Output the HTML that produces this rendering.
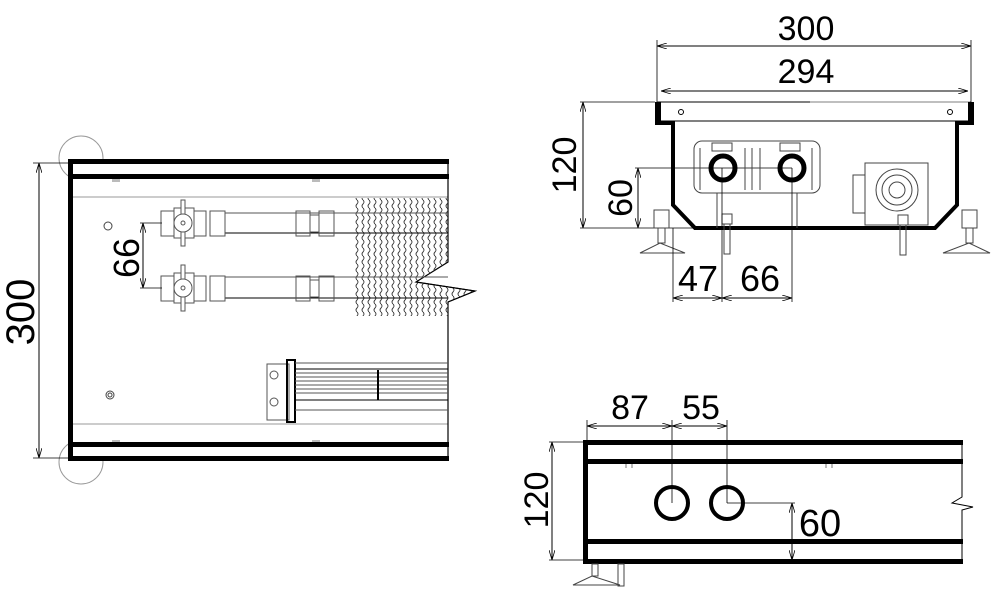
<!DOCTYPE html>
<html><head><meta charset="utf-8"><style>
html,body{margin:0;padding:0;background:#fff}
svg{display:block}
text{font-family:"Liberation Sans",sans-serif;fill:#000}
</style></head><body>
<svg width="998" height="599" viewBox="0 0 998 599" xmlns="http://www.w3.org/2000/svg">
<defs>
<pattern id="fin" x="355" y="0" width="6" height="8" patternUnits="userSpaceOnUse">
<path d="M2 0 Q4 2 2 4 Q0 6 2 8" fill="none" stroke="#333" stroke-width="0.9"/>
</pattern>
<marker id="ar" viewBox="0 0 10 6" refX="10" refY="3" markerWidth="10" markerHeight="6" orient="auto-start-reverse" markerUnits="userSpaceOnUse"><path d="M0 0 L10 3 L0 6" fill="none" stroke="#000" stroke-width="0.8"/></marker>
</defs>

<!-- ===== LEFT VIEW ===== -->
<circle cx="81" cy="158" r="22" fill="none" stroke="#999"/>
<circle cx="81" cy="462" r="22" fill="none" stroke="#999"/>
<rect x="68" y="159" width="381" height="302" fill="#fff"/>
<line x1="39" y1="163" x2="39" y2="458" stroke="#000" stroke-width="1" marker-start="url(#ar)" marker-end="url(#ar)"/>
<line x1="33" y1="163" x2="70" y2="163" stroke="#000" stroke-width="0.8"/>
<line x1="33" y1="458" x2="70" y2="458" stroke="#000" stroke-width="0.8"/>
<text transform="translate(34,312) rotate(-90)" font-size="40" text-anchor="middle">300</text>

<g fill="#000">
<rect x="68" y="159" width="381" height="5"/>
<rect x="68" y="174" width="381" height="5"/>
<rect x="68" y="442" width="381" height="5"/>
<rect x="68" y="456" width="381" height="5"/>
<rect x="68" y="159" width="5" height="302"/>
</g>
<rect x="112" y="179" width="8" height="3" fill="#bbb"/>
<rect x="312" y="179" width="8" height="3" fill="#bbb"/>
<rect x="112" y="440" width="8" height="2" fill="#bbb"/>
<rect x="312" y="440" width="8" height="2" fill="#bbb"/>
<line x1="73" y1="197" x2="448" y2="197" stroke="#999"/>
<line x1="73" y1="424" x2="448" y2="424" stroke="#999"/>
<path d="M448 160 V262 L416 282 L475 291 L448 302 V460" fill="none" stroke="#000" stroke-width="1.2"/>

<polygon points="355,198 448,198 448,262 416,282 475,291 448,302 448,316 355,316" fill="url(#fin)"/>
<path d="M416 282 L475 291 L448 302" fill="none" stroke="#000"/>

<circle cx="108" cy="226" r="4" fill="none" stroke="#444"/>
<circle cx="110" cy="395" r="4" fill="none" stroke="#444"/>
<circle cx="110" cy="395" r="2" fill="none" stroke="#444"/>

<g fill="none" stroke="#555" stroke-width="1">
<line x1="225" y1="213" x2="448" y2="213"/>
<line x1="225" y1="233" x2="448" y2="233" stroke="#000"/>
<line x1="225" y1="277" x2="448" y2="277"/>
<line x1="225" y1="298" x2="448" y2="298" stroke="#000"/>
<g id="v1">
<rect x="161" y="211" width="13" height="25"/>
<rect x="174" y="208" width="20" height="30"/>
<rect x="194" y="211" width="12" height="25"/>
<rect x="210" y="211" width="15" height="25"/>
<rect x="181" y="200" width="4" height="46" fill="#fff"/>
<circle cx="183" cy="223" r="9" fill="#fff"/>
<circle cx="183" cy="223" r="2"/>
<rect x="296" y="211" width="14" height="25"/>
<rect x="310" y="215" width="9" height="17"/>
<rect x="319" y="211" width="15" height="25"/>
</g>
<use href="#v1" y="65"/>
</g>
<line x1="143" y1="223" x2="143" y2="288" stroke="#000" marker-start="url(#ar)" marker-end="url(#ar)"/>
<line x1="140" y1="223" x2="162" y2="223" stroke="#000" stroke-width="0.8"/>
<line x1="140" y1="288" x2="162" y2="288" stroke="#000" stroke-width="0.8"/>
<text transform="translate(139,258) rotate(-90)" font-size="36" text-anchor="middle">66</text>

<g fill="none" stroke="#555" stroke-width="1">
<rect x="267" y="364" width="22" height="56"/>
<rect x="287" y="360" width="8" height="62" stroke="#000" stroke-width="2"/>
<circle cx="274" cy="375" r="4"/><circle cx="274" cy="402" r="4"/>
<line x1="295" y1="363" x2="448" y2="363"/>
<line x1="295" y1="369" x2="448" y2="369" stroke="#000"/>
<line x1="295" y1="373" x2="448" y2="373"/>
<line x1="295" y1="377" x2="448" y2="377"/>
<line x1="295" y1="381" x2="448" y2="381"/>
<line x1="295" y1="385" x2="448" y2="385"/>
<line x1="295" y1="389" x2="448" y2="389"/>
<line x1="295" y1="393" x2="448" y2="393"/>
<line x1="295" y1="400" x2="448" y2="400" stroke="#000"/>
<line x1="295" y1="410" x2="448" y2="410"/>
</g>
<line x1="378" y1="370" x2="378" y2="400" stroke="#000" stroke-width="2"/>

<!-- ===== TOP RIGHT VIEW ===== -->
<line x1="657" y1="46" x2="971" y2="46" stroke="#000" marker-start="url(#ar)" marker-end="url(#ar)"/>
<line x1="657" y1="40" x2="657" y2="102" stroke="#000" stroke-width="0.8"/>
<line x1="971" y1="40" x2="971" y2="102" stroke="#000" stroke-width="0.8"/>
<text x="806" y="40" font-size="34" text-anchor="middle">300</text>
<line x1="661" y1="91" x2="968" y2="91" stroke="#000" marker-start="url(#ar)" marker-end="url(#ar)"/>
<text x="806" y="83" font-size="34" text-anchor="middle">294</text>

<rect x="658" y="102" width="312" height="19" fill="none" stroke="#000" stroke-width="1"/>
<line x1="810" y1="102" x2="970" y2="102" stroke="#999" stroke-width="1.2"/>
<rect x="655" y="102" width="6" height="23" fill="#000"/>
<rect x="968" y="102" width="6" height="23" fill="#000"/>
<rect x="655" y="121" width="20" height="4" fill="#000"/>
<rect x="955" y="121" width="19" height="4" fill="#000"/>
<circle cx="681" cy="112" r="2.5" fill="none" stroke="#000"/>
<circle cx="950" cy="112" r="2.5" fill="none" stroke="#000"/>
<path d="M673 122 V205 L695 228 H935 L957 205 V122" fill="none" stroke="#000" stroke-width="4"/>
<line x1="583" y1="102" x2="583" y2="228" stroke="#000" marker-start="url(#ar)" marker-end="url(#ar)"/>
<line x1="580" y1="102" x2="655" y2="102" stroke="#000" stroke-width="0.8"/>
<line x1="580" y1="228" x2="695" y2="228" stroke="#000" stroke-width="0.8"/>
<text transform="translate(576,165) rotate(-90)" font-size="34" text-anchor="middle">120</text>
<line x1="638" y1="168" x2="638" y2="228" stroke="#000" marker-start="url(#ar)" marker-end="url(#ar)"/>
<line x1="635" y1="168" x2="792" y2="168" stroke="#000" stroke-width="0.8"/>
<text transform="translate(632,198) rotate(-90)" font-size="34" text-anchor="middle">60</text>

<g fill="none" stroke="#444" stroke-width="1">
<rect x="694" y="141" width="126" height="52" rx="8"/>
<line x1="700" y1="148" x2="700" y2="190"/><line x1="745" y1="148" x2="745" y2="190"/>
<line x1="752" y1="148" x2="752" y2="190"/><line x1="760" y1="148" x2="760" y2="190"/>
<line x1="812" y1="148" x2="812" y2="190"/>
<rect x="712" y="143" width="20" height="8"/><rect x="780" y="143" width="20" height="8"/>
<line x1="717" y1="193" x2="717" y2="228"/><line x1="797" y1="193" x2="797" y2="228"/>
<rect x="865" y="163" width="63" height="62"/>
<circle cx="897" cy="190" r="21"/><circle cx="897" cy="190" r="15"/><circle cx="897" cy="190" r="8"/>
<rect x="853" y="175" width="12" height="38"/>
<rect x="722" y="214" width="10" height="10"/><rect x="724" y="224" width="6" height="30"/>
<rect x="898" y="215" width="10" height="10"/><rect x="900" y="225" width="6" height="30"/>
<rect x="654" y="210" width="15" height="18"/><rect x="658" y="228" width="7" height="15"/>
<path d="M640 253 L660 243 L685 253 Z"/>
<rect x="962" y="210" width="15" height="18"/><rect x="966" y="228" width="7" height="15"/>
<path d="M943 253 L969 243 L990 253 Z"/>
</g>
<circle cx="723" cy="168" r="12" fill="none" stroke="#000" stroke-width="5"/>
<circle cx="792" cy="168" r="12" fill="none" stroke="#000" stroke-width="5"/>
<line x1="673" y1="228" x2="673" y2="302" stroke="#000" stroke-width="0.8"/>
<line x1="722" y1="168" x2="722" y2="302" stroke="#000" stroke-width="0.8"/>
<line x1="792" y1="168" x2="792" y2="302" stroke="#000" stroke-width="0.8"/>
<line x1="673" y1="298" x2="722" y2="298" stroke="#000" marker-start="url(#ar)" marker-end="url(#ar)"/>
<line x1="722" y1="298" x2="792" y2="298" stroke="#000" marker-start="url(#ar)" marker-end="url(#ar)"/>
<text x="698" y="291" font-size="36" text-anchor="middle">47</text>
<text x="760" y="291" font-size="36" text-anchor="middle">66</text>

<!-- ===== BOTTOM RIGHT VIEW ===== -->
<g fill="#000">
<rect x="583" y="440" width="380" height="5"/>
<rect x="583" y="459" width="380" height="5"/>
<rect x="583" y="539" width="380" height="5"/>
<rect x="583" y="559" width="380" height="5"/>
<rect x="583" y="440" width="5" height="124"/>
</g>
<path d="M962 440 V497 L952 503 L973 507 L962 510 V564" fill="none" stroke="#000"/>
<g stroke="#555" stroke-width="0.8"><line x1="626" y1="464" x2="626" y2="468"/><line x1="632" y1="464" x2="632" y2="468"/><line x1="826" y1="464" x2="826" y2="468"/><line x1="832" y1="464" x2="832" y2="468"/></g>
<line x1="552" y1="442" x2="552" y2="560" stroke="#000" marker-start="url(#ar)" marker-end="url(#ar)"/>
<line x1="549" y1="442" x2="583" y2="442" stroke="#000" stroke-width="0.8"/>
<line x1="549" y1="560" x2="583" y2="560" stroke="#000" stroke-width="0.8"/>
<text transform="translate(548,500) rotate(-90)" font-size="34" text-anchor="middle">120</text>
<line x1="587" y1="420" x2="587" y2="440" stroke="#000" stroke-width="0.8"/>
<line x1="672" y1="420" x2="672" y2="503" stroke="#000" stroke-width="0.8"/>
<line x1="727" y1="420" x2="727" y2="503" stroke="#000" stroke-width="0.8"/>
<line x1="587" y1="426" x2="672" y2="426" stroke="#000" marker-start="url(#ar)" marker-end="url(#ar)"/>
<line x1="672" y1="426" x2="727" y2="426" stroke="#000" marker-start="url(#ar)" marker-end="url(#ar)"/>
<text x="630" y="419" font-size="34" text-anchor="middle">87</text>
<text x="701" y="419" font-size="34" text-anchor="middle">55</text>
<circle cx="672" cy="503" r="16" fill="none" stroke="#000" stroke-width="4"/>
<circle cx="727" cy="503" r="16" fill="none" stroke="#000" stroke-width="4"/>
<line x1="727" y1="503" x2="795" y2="503" stroke="#000" stroke-width="0.8"/>
<line x1="792" y1="503" x2="792" y2="560" stroke="#000" marker-start="url(#ar)" marker-end="url(#ar)"/>
<text x="820" y="536" font-size="38" text-anchor="middle">60</text>
<g fill="none" stroke="#444" stroke-width="1">
<rect x="592" y="564" width="6" height="12"/>
<path d="M573 585 L592 576 L620 585 Z"/>
<rect x="618" y="564" width="6" height="22"/>
</g>
</svg>
</body></html>
